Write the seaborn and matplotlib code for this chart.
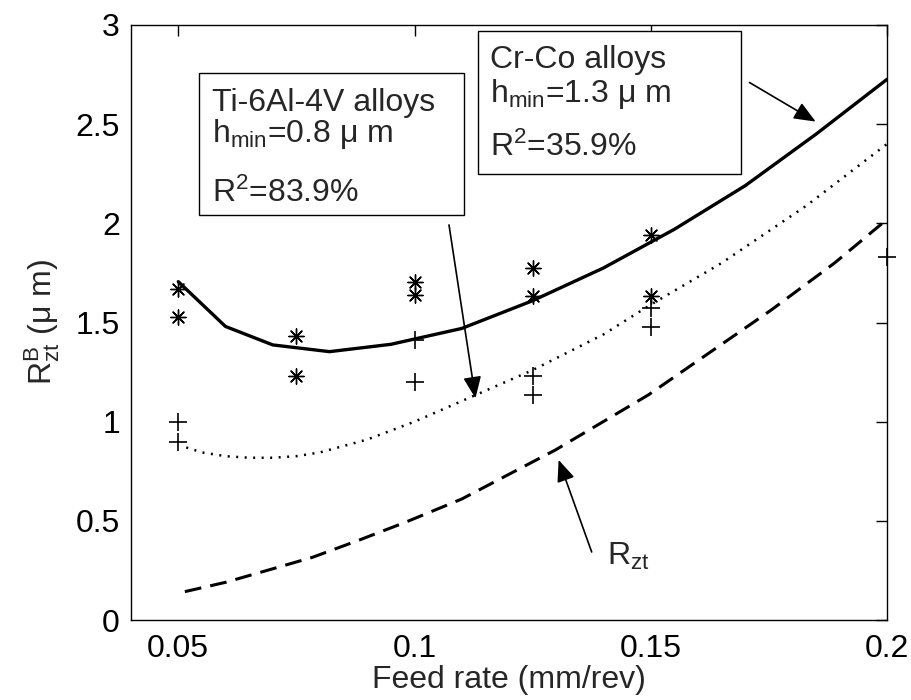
import matplotlib
matplotlib.use("Agg")
import matplotlib.pyplot as plt
import matplotlib.patches as mpatches
import seaborn as sns

# model curves
feed_cr = [0.05, 0.06, 0.07, 0.082, 0.095, 0.11, 0.125, 0.14, 0.155, 0.17, 0.185, 0.2]
rz_cr = [1.706, 1.48, 1.387, 1.353, 1.39, 1.47, 1.61, 1.775, 1.97, 2.19, 2.45, 2.726]

feed_ti = [0.0517, 0.055, 0.06, 0.065, 0.07, 0.075, 0.08, 0.09, 0.1, 0.113,
           0.125, 0.14, 0.15, 0.165, 0.183, 0.2]
rz_ti = [0.87, 0.845, 0.826, 0.818, 0.818, 0.826, 0.845, 0.91, 1.0, 1.135,
         1.26, 1.44, 1.59, 1.80, 2.09, 2.40]

feed_rzt = [0.0514, 0.06, 0.0672, 0.0784, 0.0883, 0.0981, 0.11, 0.1298,
            0.1495, 0.1755, 0.1889, 0.199]
rz_rzt = [0.143, 0.19, 0.239, 0.316, 0.403, 0.493, 0.61, 0.857,
          1.135, 1.563, 1.80, 2.0]

# measured points
cr_feed = [0.05, 0.05, 0.075, 0.075, 0.1, 0.1, 0.125, 0.125, 0.15, 0.15]
cr_rz = [1.667, 1.53, 1.432, 1.23, 1.706, 1.639, 1.777, 1.635, 1.94, 1.635]
ti_feed = [0.05, 0.05, 0.1, 0.1, 0.125, 0.125, 0.15, 0.15, 0.2]
ti_rz = [1.0, 0.90, 1.412, 1.20, 1.23, 1.132, 1.572, 1.476, 1.83]

x_ticks = [0.05, 0.1, 0.15, 0.2]
x_tick_labels = ["0.05", "0.1", "0.15", "0.2"]
y_ticks = [0, 0.5, 1, 1.5, 2, 2.5, 3]
y_tick_labels = ["0", "0.5", "1", "1.5", "2", "2.5", "3"]

sns.set_style("white")
plt.rcParams["font.family"] = ["Liberation Sans", "DejaVu Sans"]
plt.rcParams["mathtext.fontset"] = "custom"
plt.rcParams["mathtext.rm"] = "Liberation Sans"
plt.rcParams["mathtext.it"] = "Liberation Sans:italic"
plt.rcParams["mathtext.bf"] = "Liberation Sans:bold"
FS = 23

fig = plt.figure(figsize=(9.12, 7.0), dpi=100)
ax = fig.add_axes([131 / 912, 1 - 620 / 700, 756 / 912, 595 / 700])

sns.lineplot(x=feed_cr, y=rz_cr, ax=ax, color="k", lw=2.4, sort=False, estimator=None)
sns.lineplot(x=feed_ti, y=rz_ti, ax=ax, color="k", lw=1.8, sort=False, estimator=None,
             dashes=False).lines[-1].set_dashes((0.8, 2.6))
sns.lineplot(x=feed_rzt, y=rz_rzt, ax=ax, color="k", lw=2.2, sort=False, estimator=None,
             dashes=False).lines[-1].set_dashes((5.5, 3))

sns.scatterplot(x=cr_feed, y=cr_rz, ax=ax, marker=(8, 2, 0), s=120, color="k",
                linewidth=1.0, zorder=5)
sns.scatterplot(x=ti_feed, y=ti_rz, ax=ax, marker="+", s=170, color="k",
                linewidth=1.2, zorder=5, clip_on=False)

ax.set_xlim(0.04, 0.2)
ax.set_ylim(0, 3)
ax.set_xticks(x_ticks)
ax.set_xticklabels(x_tick_labels)
ax.set_yticks(y_ticks)
ax.set_yticklabels(y_tick_labels)
ax.tick_params(direction="in", top=True, right=True, length=8, width=1,
               labelsize=FS, colors="k")
ax.tick_params(axis="x", pad=10)
ax.tick_params(axis="y", pad=8)
for sp in ax.spines.values():
    sp.set_visible(True)
    sp.set_color("k")
    sp.set_linewidth(1)

ax.set_xlabel("Feed rate (mm/rev)", fontsize=FS, labelpad=1)
ax.set_ylabel(r"R$^{\mathrm{B}}_{\mathrm{zt}}$ (μ m)", fontsize=FS, labelpad=10)

# text boxes
boxes = [(0.0903, 0.6807, 0.3506, 0.2391), (0.4586, 0.7501, 0.3479, 0.2393)]
for x0, y0, w, h in boxes:
    ax.add_patch(mpatches.Rectangle((x0, y0), w, h, transform=ax.transAxes,
                                    facecolor="white", edgecolor="k", lw=1, zorder=6))

ti_lines = ["Ti-6Al-4V alloys", r"h$_{\mathrm{min}}$=0.8 μ m", r"R$^{2}$=83.9%"]
ti_y = [0.856, 0.804, 0.703]
cr_lines = ["Cr-Co alloys", r"h$_{\mathrm{min}}$=1.3 μ m", r"R$^{2}$=35.9%"]
cr_y = [0.928, 0.871, 0.779]
for s, yy in zip(ti_lines, ti_y):
    ax.text(0.1068, yy, s, transform=ax.transAxes, fontsize=FS, va="baseline", zorder=7)
for s, yy in zip(cr_lines, cr_y):
    ax.text(0.4749, yy, s, transform=ax.transAxes, fontsize=FS, va="baseline", zorder=7)

arrow = dict(arrowstyle="-|>,head_length=0.6,head_width=0.25", color="k", lw=1.2,
             mutation_scale=22, shrinkA=0, shrinkB=0)
ax.annotate("", xy=(0.1129, 1.118), xytext=(0.1073, 1.992), arrowprops=arrow)
ax.annotate("", xy=(0.1849, 2.513), xytext=(0.1709, 2.71), arrowprops=arrow)
ax.annotate("", xy=(0.1305, 0.807), xytext=(0.1375, 0.343), arrowprops=arrow)
ax.text(0.1407, 0.28, r"R$_{\mathrm{zt}}$", fontsize=FS, va="baseline")

fig.savefig("out.png", dpi=100)
